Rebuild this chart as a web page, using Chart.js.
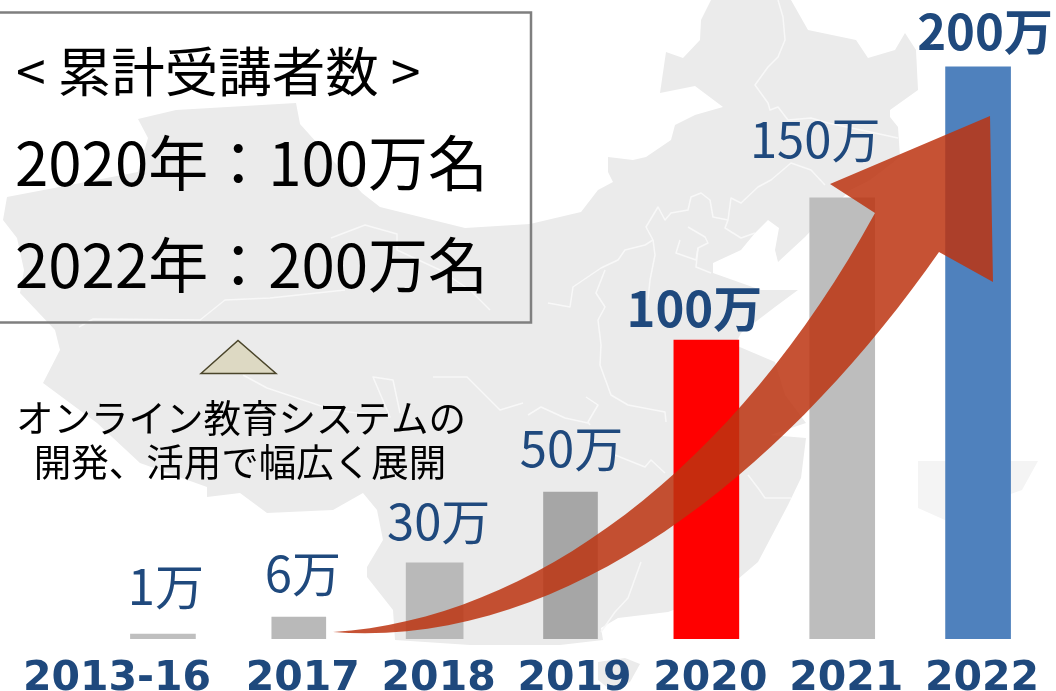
<!DOCTYPE html>
<html lang="ja">
  <head>
    <meta charset="utf-8" />
    <title>累計受講者数</title>
    <style>
      html, body { margin: 0; padding: 0; background: #fff; }
      canvas { display: block; }
    </style>
  </head>

  <body>
    <canvas id="myChart" width="1056" height="691"></canvas>
    <script src="https://cdn.jsdelivr.net/npm/chart.js"></script>
    <script>
      // data
      const categories = ["2013-16", "2017", "2018", "2019", "2020", "2021", "2022"];
      const barHeights = [1.75, 7.7, 26.6, 51.4, 104.5, 154.2, 200]; // in 万
      const valueLabels = ["1万", "6万", "30万", "50万", "100万", "150万", "200万"];
      const boldLabels = ["100万", "200万"];

      // style
      const barColors = ["#bfbfbf", "#b9b9b9", "#b9b9b9", "#a6a6a6", "#ff0000", "#bdbdbd", "#4f81bd"];
      const barWidths = [65, 54, 57, 54, 65, 65, 65];
      const labelDx = [3, 4, 4, 1, -12, -27, 7];
      const labelGap = [29, 25, 23, 25, 13, 40, 17];
      const navy = "#1f497d";
      const cjk = '"Noto Sans CJK JP"';

      // background map, traced by eye
      const mapOutline = [
        [711,0],[701,20],[700,40],[683,58],[666,52],[660,93],[695,86],[723,107],[695,115],[675,125],
        [671,140],[646,157],[633,160],[608,157],[608,172],[613,182],[598,190],[581,212],[530,224],
        [465,228],[380,207],[362,193],[300,124],[296,103],[176,110],[138,119],[148,138],[138,172],
        [7,197],[3,220],[17,238],[24,270],[20,293],[55,330],[60,350],[43,383],[97,423],[140,463],
        [207,487],[207,497],[240,493],[267,513],[333,510],[363,493],[377,510],[383,540],[367,567],
        [367,577],[393,610],[395,640],[470,645],[560,645],[603,640],[601,628],[618,618],[668,612],
        [700,600],[731,585],[758,562],[788,505],[801,478],[806,438],[770,435],[806,423],[785,395],
        [775,362],[735,345],[741,333],[775,307],[798,290],[761,290],[713,273],[713,263],[741,250],
        [755,233],[768,220],[779,228],[775,250],[778,262],[805,237],[850,190],[870,180],[900,157],
        [898,127],[890,117],[890,110],[918,90],[916,50],[905,33],[895,50],[868,58],[856,40],[808,30],[791,0]
      ];
      const mapIslands = [
        [[598,662],[625,658],[640,664],[630,682],[612,691],[598,680]]
      ];
      const mapFaint = [
        [[918,461],[1038,461],[1022,490],[985,503],[945,520],[918,508]]
      ];
      const mapBorders = [
        [[778,0],[783,17],[785,40],[778,57],[768,67],[755,85],[768,103],[770,110],[778,107],[788,120],[811,118],[828,123],[861,130],[898,138]],
        [[825,185],[811,170],[791,163],[771,180],[758,187],[741,203],[731,198],[728,220],[725,228],[741,238],[755,233]],
        [[728,220],[713,217],[710,200],[701,193],[691,197],[688,210],[671,213],[665,220],[658,207],[646,227],[653,240],[645,245],[625,250],[618,260],[601,268],[573,287],[570,307],[548,303]],
        [[653,240],[655,255],[650,280],[648,300]],
        [[605,270],[596,293],[605,307],[598,320],[601,345],[600,365],[611,395],[628,405],[665,412],[666,422]],
        [[586,397],[598,405],[588,422],[590,425]],
        [[528,415],[541,407],[565,418],[588,423]],
        [[615,455],[645,467],[651,460],[665,473]],
        [[641,562],[628,598],[615,612],[601,632]],
        [[748,475],[758,488],[765,498],[791,498]],
        [[688,227],[705,237],[708,243],[698,248],[696,267],[711,273]],
        [[680,240],[676,253],[696,260],[698,248]],
        [[79,327],[93,319],[200,320],[225,300],[270,298],[345,290]],
        [[331,238],[365,225],[397,234],[397,250],[440,270],[470,290],[490,310]],
        [[243,375],[267,388],[333,410],[390,417],[373,377],[393,380],[400,413]],
        [[433,377],[467,377],[500,410],[523,403]]
      ];

      function tracePath(ctx, pts) {
        ctx.beginPath();
        pts.forEach((p, i) => i ? ctx.lineTo(p[0], p[1]) : ctx.moveTo(p[0], p[1]));
      }

      const backgroundMap = {
        id: 'backgroundMap',
        beforeDraw(chart) {
          const {ctx} = chart;
          ctx.save();
          ctx.fillStyle = '#ebebeb';
          tracePath(ctx, mapOutline);
          ctx.closePath();
          ctx.fill();
          mapIslands.forEach(pts => { tracePath(ctx, pts); ctx.closePath(); ctx.fill(); });
          ctx.fillStyle = '#f4f4f4';
          mapFaint.forEach(pts => { tracePath(ctx, pts); ctx.closePath(); ctx.fill(); });
          ctx.strokeStyle = '#f8f8f8';
          ctx.lineWidth = 1.5;
          ctx.lineJoin = 'round';
          mapBorders.forEach(pts => { tracePath(ctx, pts); ctx.stroke(); });
          ctx.restore();
        }
      };

      function drawText(ctx, text, x, y, font, color, align) {
        ctx.font = font;
        ctx.fillStyle = color;
        ctx.textAlign = align || 'left';
        ctx.textBaseline = 'alphabetic';
        ctx.fillText(text, x, y);
      }

      const annotations = {
        id: 'annotations',
        afterDatasetsDraw(chart) {
          const {ctx, scales: {x, y}} = chart;
          ctx.save();

          // growth arrow
          ctx.fillStyle = 'rgba(188, 52, 16, 0.85)';
          ctx.beginPath();
          ctx.moveTo(333, 632);
          ctx.bezierCurveTo(530, 620, 735, 470, 875, 213);
          ctx.lineTo(830, 184);
          ctx.lineTo(990, 116);
          ctx.lineTo(993, 282);
          ctx.lineTo(939, 252);
          ctx.bezierCurveTo(790, 465, 570, 650, 333, 632);
          ctx.closePath();
          ctx.fill();

          // value labels
          valueLabels.forEach((label, i) => {
            const weight = boldLabels.includes(label) ? 'bold ' : '';
            drawText(ctx, label, x.getPixelForValue(i) + labelDx[i],
              y.getPixelForValue(barHeights[i]) - labelGap[i],
              weight + '49px ' + cjk, navy, 'center');
          });

          // summary box
          ctx.strokeStyle = '#7f7f7f';
          ctx.lineWidth = 2.5;
          ctx.strokeRect(-3, 12.5, 534, 310);
          drawText(ctx, '< 累計受講者数 >', 16, 92, '53.5px ' + cjk, '#000');
          drawText(ctx, '2020年：100万名', 15, 186, '60px ' + cjk, '#000');
          drawText(ctx, '2022年：200万名', 15, 288, '60px ' + cjk, '#000');

          // triangle and note
          ctx.fillStyle = '#ddd9c3';
          ctx.strokeStyle = '#4a452a';
          ctx.lineWidth = 1.5;
          ctx.beginPath();
          ctx.moveTo(201, 373.5);
          ctx.lineTo(238, 340.5);
          ctx.lineTo(276, 373.5);
          ctx.closePath();
          ctx.fill();
          ctx.stroke();
          drawText(ctx, 'オンライン教育システムの', 241, 432, '37.5px ' + cjk, '#000', 'center');
          drawText(ctx, '開発、活用で幅広く展開', 240, 476, '37.5px ' + cjk, '#000', 'center');

          ctx.restore();
        }
      };

      // one dataset per bar so each can keep its own width
      const datasets = barHeights.map((v, i) => ({
        data: categories.map((_, j) => (j === i ? v : null)),
        backgroundColor: barColors[i],
        barThickness: barWidths[i]
      }));

      new Chart(document.getElementById('myChart'), {
        type: 'bar',
        data: { labels: categories, datasets },
        options: {
          responsive: false,
          animation: false,
          layout: { padding: { left: 95, right: 10, top: 0, bottom: 0 } },
          plugins: { legend: { display: false }, tooltip: { enabled: false } },
          scales: {
            x: {
              stacked: true,
              grid: { display: false },
              border: { display: false },
              afterFit(scale) { scale.height = 52; },
              ticks: {
                autoSkip: false,
                minRotation: 0,
                maxRotation: 0,
                padding: 8,
                labelOffset: 4,
                color: navy,
                font: { family: '"DejaVu Sans"', weight: 'bold', size: 41 },
                // trailing spaces push the wide first label left, clear of 2017
                callback(value, i) { return i === 0 ? categories[i] + '       ' : categories[i]; }
              }
            },
            y: {
              display: false,
              stacked: true,
              min: 0,
              max: 223.4
            }
          }
        },
        plugins: [backgroundMap, annotations]
      });
    </script>
  </body>
</html>
